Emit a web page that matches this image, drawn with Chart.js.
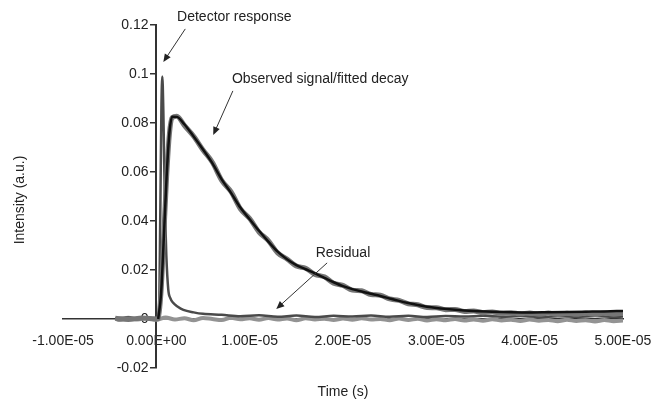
<!DOCTYPE html>
<html>
<head>
<meta charset="utf-8">
<script src="https://cdn.jsdelivr.net/npm/chart.js"></script>
<style>
  body { margin: 0; background: #fff; }
  #wrap { width: 655px; height: 402px; }
</style>
</head>
<body>
<div id="wrap"><canvas id="decayChart"></canvas></div>
<script>
// axis ticks (time in seconds, intensity in a.u.)
const xTicks = [-1e-5, 0, 1e-5, 2e-5, 3e-5, 4e-5, 5e-5];
const yTicks = [-0.02, 0, 0.02, 0.04, 0.06, 0.08, 0.1, 0.12];

// fitted decay (black)
const fitTimes = [2e-7, 5e-7, 8e-7, 1.1e-6, 1.4e-6, 1.7e-6, 2.2e-6, 3e-6, 4e-6, 5e-6,
  6e-6, 7e-6, 8e-6, 9e-6, 1e-5, 1.1e-5, 1.2e-5, 1.3e-5, 1.4e-5, 1.5e-5,
  1.6e-5, 1.7e-5, 1.8e-5, 1.9e-5, 2e-5, 2.1e-5, 2.2e-5, 2.3e-5, 2.4e-5, 2.5e-5,
  2.6e-5, 2.7e-5, 2.8e-5, 2.9e-5, 3e-5, 3.2e-5, 3.4e-5, 3.6e-5, 3.8e-5, 4e-5,
  4.2e-5, 4.4e-5, 4.6e-5, 4.8e-5, 5e-5];
const fitValues = [0, 0.010, 0.033, 0.058, 0.076, 0.0826, 0.0825, 0.0795, 0.0745, 0.0692,
  0.0636, 0.0570, 0.0515, 0.0455, 0.0407, 0.0360, 0.0316, 0.0275, 0.0244, 0.0220,
  0.0203, 0.0186, 0.0168, 0.0150, 0.0134, 0.0122, 0.0112, 0.0103, 0.0094, 0.0084,
  0.0074, 0.0065, 0.0057, 0.0050, 0.0045, 0.0038, 0.0033, 0.0030, 0.0028, 0.0027,
  0.0028, 0.0029, 0.0030, 0.0031, 0.0033];

// observed signal (grey, noisy)
const obsTimes = [-4.4e-6, -3e-6, -1.5e-6, 0, 2e-7, 5e-7, 8e-7, 1.1e-6, 1.4e-6, 1.7e-6,
  2.2e-6, 3e-6, 4e-6, 5e-6, 6e-6, 7e-6, 8e-6, 9e-6, 1e-5, 1.1e-5,
  1.2e-5, 1.3e-5, 1.4e-5, 1.5e-5, 1.6e-5, 1.7e-5, 1.8e-5, 1.9e-5, 2e-5, 2.1e-5,
  2.2e-5, 2.3e-5, 2.4e-5, 2.5e-5, 2.6e-5, 2.7e-5, 2.8e-5, 2.9e-5, 3e-5, 3.1e-5,
  3.2e-5, 3.3e-5, 3.4e-5, 3.5e-5, 3.6e-5, 3.7e-5, 3.8e-5, 3.9e-5, 4e-5, 4.1e-5,
  4.2e-5, 4.3e-5, 4.4e-5, 4.5e-5, 4.6e-5, 4.7e-5, 4.8e-5, 4.9e-5, 5e-5];
const obsValues = [0.0003, -0.0002, 0.0004, 0.0, 0.0002, 0.011, 0.034, 0.058, 0.0755, 0.0822,
  0.0828, 0.0790, 0.0746, 0.0690, 0.0640, 0.0566, 0.0520, 0.0450, 0.0410, 0.0355,
  0.0320, 0.0270, 0.0245, 0.0216, 0.0207, 0.0182, 0.0172, 0.0146, 0.0137, 0.0118,
  0.0115, 0.0100, 0.0097, 0.0082, 0.0076, 0.0062, 0.0058, 0.0047, 0.0046, 0.0038,
  0.0039, 0.0031, 0.0033, 0.0026, 0.0029, 0.0023, 0.0026, 0.0021, 0.0025, 0.0019,
  0.0024, 0.0018, 0.0023, 0.0019, 0.0024, 0.0018, 0.0025, 0.0019, 0.0024];

// detector response (dark grey spike)
const detTimes = [-4.4e-6, -3e-6, -1.5e-6, 0, 2.7e-7, 4.3e-7, 5.4e-7, 6.4e-7, 7.5e-7, 8.6e-7,
  9.6e-7, 1.07e-6, 1.28e-6, 1.5e-6, 1.8e-6, 2.3e-6, 2.9e-6, 4e-6, 5e-6, 7e-6,
  9e-6, 1.1e-5, 1.3e-5, 1.5e-5, 1.7e-5, 1.9e-5, 2.1e-5, 2.3e-5, 2.5e-5, 2.7e-5,
  2.9e-5, 3.1e-5, 3.3e-5, 3.5e-5, 3.7e-5, 3.9e-5, 4.1e-5, 4.3e-5, 4.5e-5, 4.7e-5,
  4.9e-5, 5e-5];
const detValues = [0.0002, 0.0006, 0.0001, 0.0004, 0.0005, 0.045, 0.085, 0.099, 0.085, 0.060,
  0.040, 0.026, 0.012, 0.0085, 0.0066, 0.0050, 0.0037, 0.0027, 0.0021, 0.0017,
  0.0011, 0.0015, 0.0009, 0.0014, 0.0008, 0.0013, 0.0010, 0.0014, 0.0009, 0.0013,
  0.0008, 0.0012, 0.0010, 0.0013, 0.0009, 0.0012, 0.0008, 0.0011, 0.0009, 0.0012,
  0.0008, 0.0010];

// residual (light grey, around zero)
const resTimes = [-4.4e-6, -4e-6, -3e-6, -2e-6, -1e-6, 0, 1e-6, 2e-6, 3e-6, 4e-6,
  5e-6, 6e-6, 7e-6, 8e-6, 9e-6, 1e-5, 1.1e-5, 1.2e-5, 1.3e-5, 1.4e-5,
  1.5e-5, 1.6e-5, 1.7e-5, 1.8e-5, 1.9e-5, 2e-5, 2.1e-5, 2.2e-5, 2.3e-5, 2.4e-5,
  2.5e-5, 2.6e-5, 2.7e-5, 2.8e-5, 2.9e-5, 3e-5, 3.1e-5, 3.2e-5, 3.3e-5, 3.4e-5,
  3.5e-5, 3.6e-5, 3.7e-5, 3.8e-5, 3.9e-5, 4e-5, 4.1e-5, 4.2e-5, 4.3e-5, 4.4e-5,
  4.5e-5, 4.6e-5, 4.7e-5, 4.8e-5, 4.9e-5, 5e-5];
const resValues = [0.0003, -0.0004, 0.0005, -0.0002, 0.0004, -0.0003, 0.0006, -0.0002, 0.0003, -0.0005,
  0.0004, 0.0000, -0.0004, 0.0005, -0.0001, 0.0003, -0.0003, 0.0004, -0.0002, 0.0002,
  -0.0005, 0.0003, -0.0002, 0.0001, -0.0004, 0.0002, -0.0003, 0.0003, -0.0002, 0.0000,
  -0.0005, 0.0002, -0.0004, 0.0001, -0.0006, -0.0001, -0.0005, 0.0000, -0.0006, -0.0002,
  -0.0007, -0.0001, -0.0006, -0.0003, -0.0008, -0.0002, -0.0007, -0.0004, -0.0009, -0.0003,
  -0.0008, -0.0005, -0.0010, -0.0004, -0.0009, -0.0006];

// callouts: label centre and arrow, in data units
const notes = [
  { text: 'Detector response', at: [8.35e-6, 0.1233], from: [3.1e-6, 0.1184], to: [7.5e-7, 0.1049] },
  { text: 'Observed signal/fitted decay', at: [1.756e-5, 0.098], from: [8.2e-6, 0.0931], to: [6.1e-6, 0.0751] },
  { text: 'Residual', at: [2.0e-5, 0.0269], from: [1.83e-5, 0.0229], to: [1.285e-5, 0.0041] }
];

const FONT = '"Liberation Sans", Arial, sans-serif';

function toPoints(ts, vs) {
  return ts.map((t, i) => ({ x: t, y: vs[i] }));
}

function sciLabel(v) {
  if (Math.abs(v) < 1e-15) return '0.00E+00';
  let exp = Math.floor(Math.log10(Math.abs(v)));
  let mant = v / Math.pow(10, exp);
  if (Math.abs(mant) >= 9.995) { mant /= 10; exp += 1; }
  return mant.toFixed(2) + 'E' + (exp < 0 ? '-' : '+') + String(Math.abs(exp)).padStart(2, '0');
}

function drawArrow(ctx, x1, y1, x2, y2) {
  const ang = Math.atan2(y2 - y1, x2 - x1);
  const len = 8, half = 3.5;
  ctx.beginPath();
  ctx.moveTo(x1, y1);
  ctx.lineTo(x2 - Math.cos(ang) * len * 0.8, y2 - Math.sin(ang) * len * 0.8);
  ctx.stroke();
  ctx.beginPath();
  ctx.moveTo(x2, y2);
  ctx.lineTo(x2 - Math.cos(ang) * len - Math.sin(ang) * half, y2 - Math.sin(ang) * len + Math.cos(ang) * half);
  ctx.lineTo(x2 - Math.cos(ang) * len + Math.sin(ang) * half, y2 - Math.sin(ang) * len - Math.cos(ang) * half);
  ctx.closePath();
  ctx.fill();
}

const notesPlugin = {
  id: 'notes',
  afterDraw(chart) {
    const { ctx, scales: { x, y } } = chart;
    ctx.save();
    ctx.fillStyle = '#222';
    ctx.strokeStyle = '#333';
    ctx.lineWidth = 1;
    ctx.font = '14px ' + FONT;
    ctx.textAlign = 'center';
    ctx.textBaseline = 'middle';
    notes.forEach(n => {
      ctx.fillText(n.text, x.getPixelForValue(n.at[0]), y.getPixelForValue(n.at[1]));
      drawArrow(ctx,
        x.getPixelForValue(n.from[0]), y.getPixelForValue(n.from[1]),
        x.getPixelForValue(n.to[0]), y.getPixelForValue(n.to[1]));
    });
    // axis titles
    ctx.fillText('Time (s)', 343, 392);
    ctx.translate(20, 200);
    ctx.rotate(-Math.PI / 2);
    ctx.fillText('Intensity (a.u.)', 0, 0);
    ctx.restore();
  }
};

function lineSet(label, ts, vs, color, width, order) {
  return {
    label,
    data: toPoints(ts, vs),
    borderColor: color,
    borderWidth: width,
    pointRadius: 0,
    fill: false,
    cubicInterpolationMode: 'monotone',
    order
  };
}

const ctx = document.getElementById('decayChart').getContext('2d');
window.decayChart = new Chart(ctx, {
  type: 'line',
  data: {
    datasets: [
      lineSet('Fitted decay', fitTimes, fitValues, '#111111', 2.5, 1),
      lineSet('Observed signal', obsTimes, obsValues, '#767676', 5, 2),
      lineSet('Detector response', detTimes, detValues, '#4a4a4a', 2.5, 3),
      lineSet('Residual', resTimes, resValues, '#939393', 4, 4)
    ]
  },
  options: {
    responsive: true,
    maintainAspectRatio: false,
    animation: false,
    devicePixelRatio: 1,
    layout: { autoPadding: false, padding: { left: 63, right: 32, top: 25, bottom: 34 } },
    plugins: {
      legend: { display: false },
      tooltip: { enabled: false }
    },
    scales: {
      x: {
        type: 'linear',
        position: { y: 0 },
        min: -1e-5,
        max: 5e-5,
        afterBuildTicks: s => { s.ticks = xTicks.map(v => ({ value: v })); },
        ticks: {
          callback: v => sciLabel(v),
          color: '#222',
          font: { family: FONT, size: 14 },
          padding: 1,
          maxRotation: 0,
          autoSkip: false
        },
        // invisible tick marks only used to push the labels below the axis
        grid: { display: false, drawTicks: true, tickLength: 13 },
        border: { display: true, color: '#333', width: 1.5 }
      },
      y: {
        type: 'linear',
        position: { x: 0 },
        min: -0.02,
        max: 0.12,
        afterBuildTicks: s => { s.ticks = yTicks.map(v => ({ value: v })); },
        ticks: {
          // trailing spaces keep the labels clear of the axis line
          callback: v => String(Math.round(v * 100) / 100) + '  ',
          color: '#222',
          font: { family: FONT, size: 14 },
          padding: 4,
          autoSkip: false
        },
        grid: { display: true, drawOnChartArea: false, drawTicks: true, tickLength: 5, color: '#333', lineWidth: 1.5 },
        border: { display: true, color: '#333', width: 2 }
      }
    }
  },
  plugins: [notesPlugin]
});
</script>
</body>
</html>
